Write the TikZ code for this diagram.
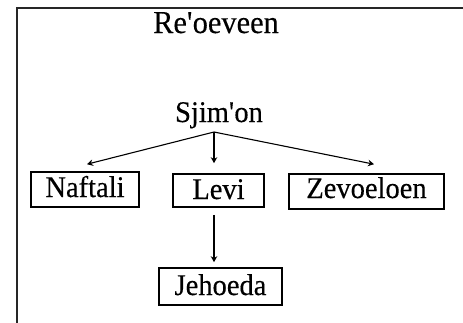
\documentclass[tikz,border=0pt]{standalone}
\usepackage{fontspec}
\setmainfont[FakeStretch=0.95,FakeBold=0.3]{Liberation Serif}
\usetikzlibrary{arrows.meta}
\begin{document}
\begin{tikzpicture}[x=1pt,y=-1pt,
  txt/.style={inner sep=0pt, anchor=base, font=\fontsize{30}{32}\selectfont},
  namebox/.style={txt, draw, line width=1.6pt, inner xsep=0pt},
  link/.style={line width=1.1pt, -{Stealth[length=6pt,width=6.5pt]}}]
  \useasboundingbox (0,0) rectangle (463,322);
  \clip (0,0) rectangle (463,322);
  \fill[white] (0,0) rectangle (463,322);
  % outer frame, running past the right and bottom edges
  \draw[line width=2pt, black!85] (16.5,7.5) rectangle (490,350);

  \node[txt, font=\fontsize{32}{34}\selectfont] (reoeveen) at (216,33) {Re\textquotesingle oeveen};
  \node[txt] (sjimon) at (219,122) {Sjim\textquotesingle on};
  \coordinate (apex) at (214,132);

  \node[namebox, minimum width=108pt, text height=25pt, text depth=10pt] (naftali) at (85,197) {Naftali};
  \node[namebox, minimum width=91pt, text height=25pt, text depth=8pt] (levi) at (218.5,199) {Levi};
  \node[namebox, minimum width=155pt, text height=24pt, text depth=11pt] (zevoeloen) at (366.5,198) {Zevoeloen};
  \node[namebox, minimum width=123pt, text height=27pt, text depth=10pt] (jehoeda) at (220.5,295) {Jehoeda};

  % arrow tips stop short of the boxes
  \draw[link] (apex) -- ([xshift=2pt,yshift=7pt]naftali.north);
  \draw[link, shorten >=10pt] (apex) -- (apex |- levi.north);
  \draw[link] (apex) -- ([xshift=7.5pt,yshift=9pt]zevoeloen.north);
  \draw[link, shorten <=7pt, shorten >=5pt] (levi.south -| apex) -- (jehoeda.north -| apex);
\end{tikzpicture}
\end{document}
